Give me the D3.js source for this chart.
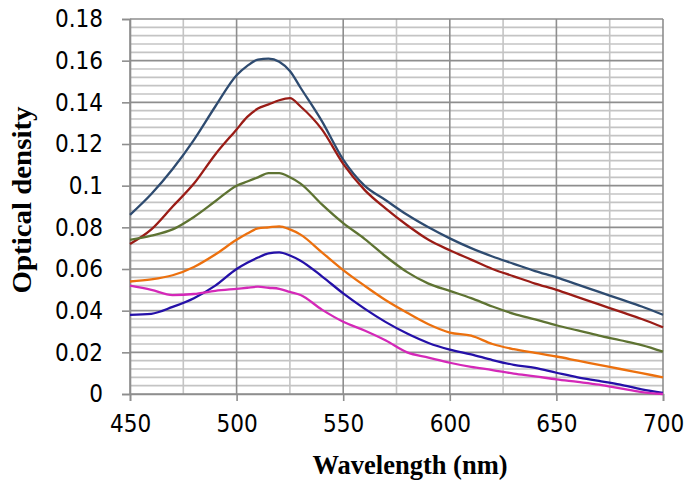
<!DOCTYPE html>
<html>
<head>
<meta charset="utf-8">
<script src="https://cdn.jsdelivr.net/npm/d3@7"></script>
<style>
  body { margin: 0; background: #fff; }
  svg { display: block; }
</style>
</head>
<body>
<div id="chart"></div>
<script>
// wavelengths (nm) shared by every spectrum
const wavelength = [450, 460, 470, 480, 490, 500, 505, 510, 515, 520, 525, 530, 540, 550, 560,
  570, 580, 590, 600, 610, 620, 630, 640, 650, 660, 670, 680, 690, 700];

const odBlue = [0.086, 0.096, 0.108, 0.122, 0.138, 0.153, 0.1575, 0.1605, 0.161, 0.1595, 0.155, 0.147, 0.131, 0.1125, 0.100,
  0.093, 0.086, 0.080, 0.0747, 0.070, 0.066, 0.0625, 0.059, 0.056, 0.0525, 0.049, 0.0455, 0.042, 0.038];
const odRed = [0.072, 0.079, 0.090, 0.101, 0.115, 0.127, 0.133, 0.137, 0.139, 0.141, 0.142, 0.138, 0.127, 0.1105, 0.098,
  0.089, 0.081, 0.074, 0.069, 0.0645, 0.060, 0.0565, 0.053, 0.050, 0.0465, 0.043, 0.0395, 0.036, 0.032];
const odGreen = [0.074, 0.076, 0.079, 0.085, 0.0925, 0.100, 0.102, 0.104, 0.106, 0.106, 0.104, 0.101, 0.091, 0.082, 0.0745,
  0.066, 0.0585, 0.053, 0.0495, 0.046, 0.042, 0.0385, 0.0358, 0.033, 0.0305, 0.028, 0.0258, 0.0235, 0.0203];
const odOrange = [0.054, 0.055, 0.057, 0.061, 0.067, 0.074, 0.077, 0.0795, 0.080, 0.0805, 0.079, 0.0765, 0.068, 0.0595, 0.052,
  0.045, 0.039, 0.0335, 0.0295, 0.028, 0.024, 0.0215, 0.0197, 0.018, 0.016, 0.014, 0.012, 0.010, 0.008];
const odIndigo = [0.038, 0.0385, 0.0418, 0.046, 0.052, 0.060, 0.063, 0.0655, 0.0675, 0.068, 0.0665, 0.064, 0.0565, 0.0483, 0.041,
  0.0345, 0.029, 0.0245, 0.0213, 0.019, 0.0163, 0.014, 0.0125, 0.0102, 0.008, 0.0063, 0.0045, 0.0022, 0.0005];
const odMagenta = [0.052, 0.050, 0.0475, 0.048, 0.0495, 0.0505, 0.051, 0.0515, 0.051, 0.0505, 0.049, 0.0475, 0.0405, 0.0347, 0.0305,
  0.0257, 0.020, 0.0175, 0.015, 0.013, 0.0115, 0.0098, 0.0085, 0.007, 0.0058, 0.0045, 0.0027, 0.0009, 0.0];

const xTicks = [450, 500, 550, 600, 650, 700];
const yTicks = [0, 0.02, 0.04, 0.06, 0.08, 0.1, 0.12, 0.14, 0.16, 0.18];

const series = [
  { values: odBlue, color: '#2e4b70' },
  { values: odRed, color: '#9a1c16' },
  { values: odGreen, color: '#5e7332' },
  { values: odOrange, color: '#ec700e' },
  { values: odIndigo, color: '#2410a8' },
  { values: odMagenta, color: '#d428b8' }
];

const width = 684, height = 480;
const margin = { top: 19, right: 21, bottom: 86, left: 130 };

const svg = d3.select('#chart').append('svg')
  .attr('width', width)
  .attr('height', height);

const x = d3.scaleLinear().domain([450, 700]).range([margin.left, width - margin.right]);
const y = d3.scaleLinear().domain([0, 0.18]).range([height - margin.bottom, margin.top]);

const grid = svg.append('g');

// minor grid
grid.selectAll('.vminor')
  .data(d3.range(475, 700, 50))
  .join('line')
  .attr('x1', d => x(d)).attr('x2', d => x(d))
  .attr('y1', y(0)).attr('y2', y(0.18))
  .attr('stroke', '#c4c4c4').attr('stroke-width', 1.6);

grid.selectAll('.hminor')
  .data(d3.range(0, 181, 4).filter(d => d % 20 !== 0).map(d => d / 1000))
  .join('line')
  .attr('x1', x(450)).attr('x2', x(700))
  .attr('y1', d => y(d)).attr('y2', d => y(d))
  .attr('stroke', '#c4c4c4').attr('stroke-width', 1.6);

// major grid
grid.selectAll('.vmajor')
  .data(xTicks)
  .join('line')
  .attr('x1', d => x(d)).attr('x2', d => x(d))
  .attr('y1', y(0)).attr('y2', y(0.18))
  .attr('stroke', '#8e8e8e').attr('stroke-width', 1.6);

grid.selectAll('.hmajor')
  .data(yTicks)
  .join('line')
  .attr('x1', x(450)).attr('x2', x(700))
  .attr('y1', d => y(d)).attr('y2', d => y(d))
  .attr('stroke', '#8e8e8e').attr('stroke-width', 1.6);

// axes
const tickFont = '"Liberation Sans Narrow", "DejaVu Sans Condensed", sans-serif';

const xAxis = svg.append('g')
  .attr('transform', `translate(0,${y(0)})`)
  .call(d3.axisBottom(x).tickValues(xTicks).tickSize(7).tickPadding(14).tickFormat(d3.format('d')));
const yAxis = svg.append('g')
  .attr('transform', `translate(${x(450)},0)`)
  .call(d3.axisLeft(y).tickValues(yTicks).tickSize(8).tickPadding(19).tickFormat(d => d === 0 ? '0' : String(+d.toFixed(2))));

[xAxis, yAxis].forEach(a => {
  a.select('.domain').attr('stroke', '#8e8e8e').attr('stroke-width', 1.6);
  a.selectAll('.tick line').attr('stroke', '#8e8e8e').attr('stroke-width', 1.6);
  a.selectAll('.tick text')
    .attr('fill', '#000')
    .style('font-family', tickFont)
    .style('font-size', '24px');
});

// spectra
const line = d3.line()
  .x((d, i) => x(wavelength[i]))
  .y(d => y(d))
  .curve(d3.curveMonotoneX);

svg.append('g').selectAll('path')
  .data(series)
  .join('path')
  .attr('d', s => line(s.values))
  .attr('fill', 'none')
  .attr('stroke', s => s.color)
  .attr('stroke-width', 2.3)
  .attr('stroke-linejoin', 'round');

// titles
svg.append('text')
  .attr('x', 410)
  .attr('y', 474)
  .attr('text-anchor', 'middle')
  .style('font-family', '"Liberation Serif", "Times New Roman", serif')
  .style('font-weight', 'bold')
  .style('font-size', '26.5px')
  .text('Wavelength (nm)');

svg.append('text')
  .attr('transform', 'translate(31,200) rotate(-90) scale(1.07,1)')
  .attr('text-anchor', 'middle')
  .style('font-family', '"Liberation Serif", "Times New Roman", serif')
  .style('font-weight', 'bold')
  .style('font-size', '27px')
  .text('Optical density');
</script>
</body>
</html>
